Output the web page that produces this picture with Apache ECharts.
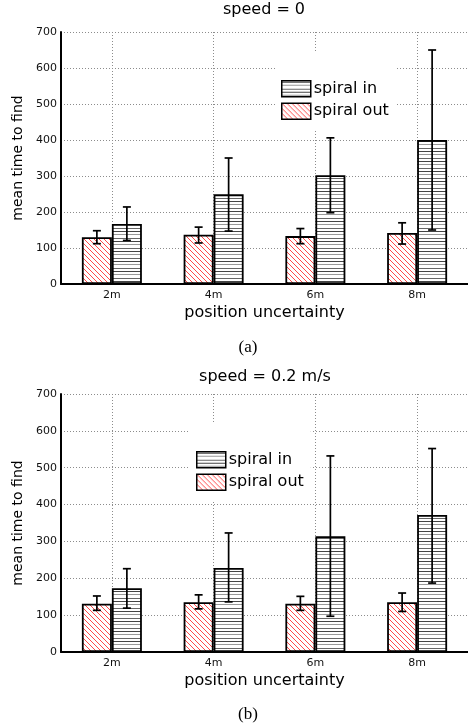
<!DOCTYPE html>
<html>
<head>
<meta charset="utf-8">
<script src="https://cdn.jsdelivr.net/npm/echarts@6/dist/echarts.min.js"></script>
<style>
  html, body { margin: 0; padding: 0; background: #fff; }
  #chart { width: 468px; height: 727px; }
</style>
</head>
<body>
<div id="chart"></div>
<script>
// categories and tick labels
const categories = ['2m', '4m', '6m', '8m'];
const yTicks = [0, 100, 200, 300, 400, 500, 600, 700];

// (a) speed = 0
const speed0Out = [130, 137, 133, 142];
const speed0OutErr = [[112, 148], [114, 158], [112, 154], [111, 170]];
const speed0In = [167, 249, 302, 400];
const speed0InErr = [[121, 214], [147, 350], [198, 406], [150, 650]];

// (b) speed = 0.2 m/s
const speed02Out = [131, 135, 131, 135];
const speed02OutErr = [[113, 152], [117, 155], [113, 151], [110, 160]];
const speed02In = [173, 228, 314, 372];
const speed02InErr = [[119, 226], [136, 323], [97, 532], [187, 552]];

const FONT = 'DejaVu Sans';
const BAR_W = 30;

// hatch fills
function hatchHorizontal() {
  const c = document.createElement('canvas');
  c.width = 4; c.height = 10;
  const g = c.getContext('2d');
  g.fillStyle = '#fff'; g.fillRect(0, 0, 4, 10);
  g.fillStyle = '#444'; g.fillRect(0, 1, 4, 1);
  g.fillStyle = '#999'; g.fillRect(0, 4, 4, 1);
  g.fillStyle = '#666'; g.fillRect(0, 8, 4, 1);
  return { image: c, repeat: 'repeat' };
}
function hatchDiagonal() {
  const c = document.createElement('canvas');
  c.width = 5; c.height = 5;
  const g = c.getContext('2d');
  g.fillStyle = '#fff'; g.fillRect(0, 0, 5, 5);
  g.strokeStyle = '#ff4848'; g.lineWidth = 1;
  [-5, 0, 5].forEach(o => {
    g.beginPath(); g.moveTo(o, 0); g.lineTo(o + 5, 5); g.stroke();
  });
  return { image: c, repeat: 'repeat' };
}
const inFill = hatchHorizontal();
const outFill = hatchDiagonal();

function errRender(offset) {
  return function (params, api) {
    const i = api.value(0);
    const lo = api.coord([i, api.value(1)]);
    const hi = api.coord([i, api.value(2)]);
    const x = lo[0] + offset;
    const st = { stroke: '#000', lineWidth: 1.7 };
    return {
      type: 'group',
      children: [
        { type: 'line', shape: { x1: x, y1: hi[1], x2: x, y2: lo[1] }, style: st },
        { type: 'line', shape: { x1: x - 4, y1: hi[1], x2: x + 4, y2: hi[1] }, style: st },
        { type: 'line', shape: { x1: x - 4, y1: lo[1], x2: x + 4, y2: lo[1] }, style: st }
      ]
    };
  };
}

function errData(err) {
  return err.map((e, i) => [i, e[0], e[1]]);
}

function xAxisOpt(idx) {
  return {
    type: 'category', gridIndex: idx, data: categories,
    name: 'position uncertainty', nameLocation: 'middle', nameGap: 21,
    nameTextStyle: { fontFamily: FONT, fontSize: 16, color: '#000' },
    axisLine: { lineStyle: { color: '#000', width: 2 } },
    axisTick: { show: false },
    axisLabel: { fontFamily: FONT, fontSize: 11, color: '#111', margin: 6 },
    splitLine: { show: true, alignWithLabel: true, lineStyle: { color: '#8c8c8c', type: [1, 2], width: 1 } }
  };
}
function yAxisOpt(idx) {
  return {
    type: 'value', gridIndex: idx, min: 0, max: 700, interval: 100,
    name: 'mean time to find', nameLocation: 'middle', nameGap: 36,
    nameTextStyle: { fontFamily: FONT, fontSize: 14, color: '#000' },
    axisLine: { show: true, lineStyle: { color: '#000', width: 2 } },
    axisTick: { show: false },
    axisLabel: {
      fontFamily: FONT, fontSize: 11, color: '#111', margin: 4,
      formatter: v => (yTicks.indexOf(v) >= 0 ? String(v) : '')
    },
    splitLine: { show: true, lineStyle: { color: '#8c8c8c', type: [1, 2], width: 1 } }
  };
}

function barSeries(name, idx, values, fill) {
  return {
    name: name, type: 'bar', xAxisIndex: idx, yAxisIndex: idx,
    data: values, barWidth: BAR_W, barGap: '0%',
    itemStyle: { color: fill, borderColor: '#000', borderWidth: 1.8 },
    emphasis: { disabled: true }, z: 2
  };
}
function errSeries(idx, err, offset) {
  return {
    type: 'custom', xAxisIndex: idx, yAxisIndex: idx,
    data: errData(err), renderItem: errRender(offset),
    encode: { x: 0, y: [1, 2] }, z: 5, silent: true
  };
}

function legendOpt(left, top, pad) {
  return {
    orient: 'vertical', left: left, top: top,
    data: ['spiral in', 'spiral out'],
    icon: 'rect', itemWidth: 29, itemHeight: 16, itemGap: 5,
    padding: pad, backgroundColor: '#fff', selectedMode: false,
    itemStyle: { borderColor: '#000', borderWidth: 1.5 },
    textStyle: { fontFamily: FONT, fontSize: 16, color: '#000', padding: [0, 0, 0, -2] }
  };
}

function label(text, x, y, font, size) {
  return {
    type: 'text', x: x, y: y, z: 10,
    style: { text: text, fontFamily: font, fontSize: size, fill: '#000', align: 'center', verticalAlign: 'middle' }
  };
}

const chart = echarts.init(document.getElementById('chart'), null, { renderer: 'canvas' });
chart.setOption({
  animation: false,
  backgroundColor: '#fff',
  grid: [
    { left: 61, top: 32, width: 408, height: 252 },
    { left: 61, top: 394, width: 408, height: 258 }
  ],
  xAxis: [xAxisOpt(0), xAxisOpt(1)],
  yAxis: [yAxisOpt(0), yAxisOpt(1)],
  legend: [
    legendOpt(275, 52, [28, 7, 10, 6]),
    legendOpt(190, 423, [28, 7, 10, 6])
  ],
  graphic: [
    label('speed = 0', 264, 10, FONT, 16),
    label('(a)', 248, 348, 'Liberation Serif', 17),
    label('speed = 0.2 m/s', 265, 377, FONT, 16),
    label('(b)', 248, 715, 'Liberation Serif', 17)
  ],
  series: [
    barSeries('spiral out', 0, speed0Out, outFill),
    barSeries('spiral in', 0, speed0In, inFill),
    errSeries(0, speed0OutErr, -BAR_W / 2),
    errSeries(0, speed0InErr, BAR_W / 2),
    barSeries('spiral out', 1, speed02Out, outFill),
    barSeries('spiral in', 1, speed02In, inFill),
    errSeries(1, speed02OutErr, -BAR_W / 2),
    errSeries(1, speed02InErr, BAR_W / 2)
  ]
});
</script>
</body>
</html>
